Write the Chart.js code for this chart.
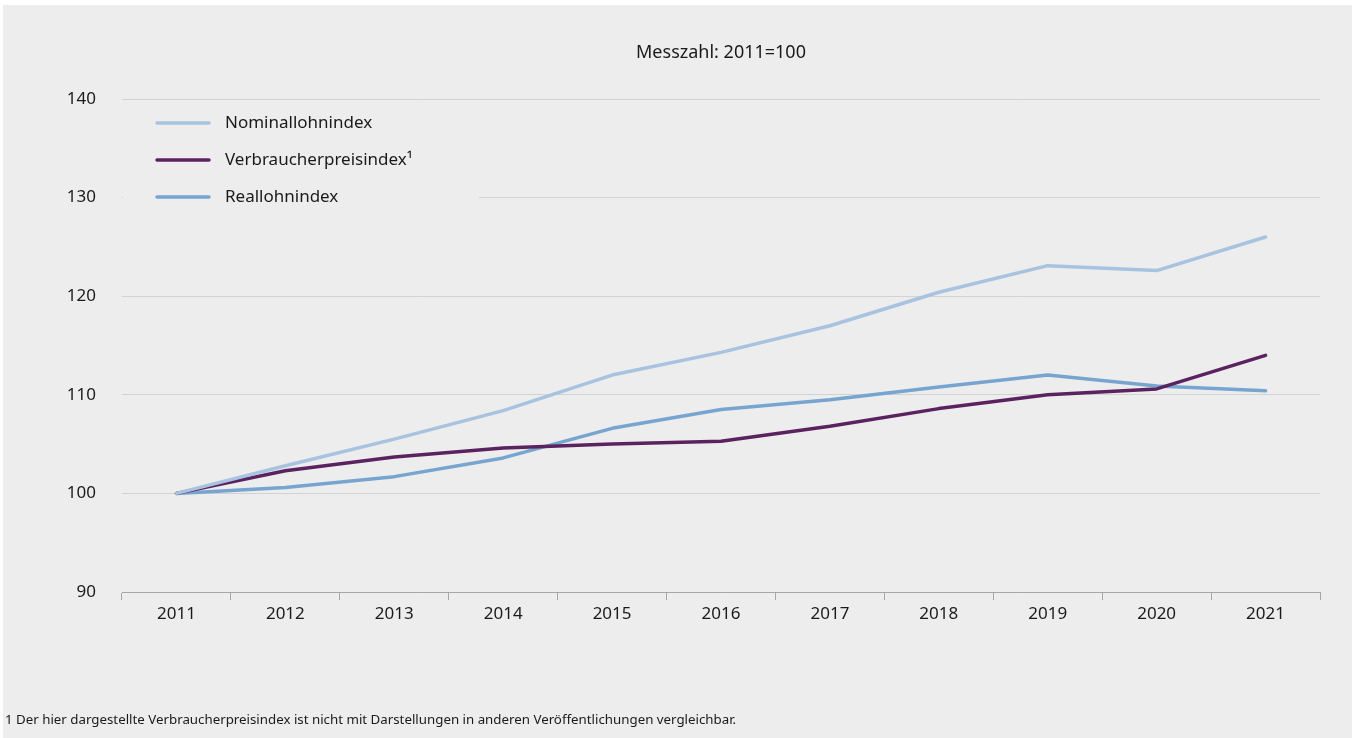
<!DOCTYPE html>
<html lang="de">
<head>
<meta charset="utf-8">
<script src="https://cdn.jsdelivr.net/npm/chart.js@4/dist/chart.umd.min.js"></script>
<style>
  html, body { margin: 0; padding: 0; background: #ffffff; }
  #wrap { position: relative; width: 1352px; height: 738px; }
  #note { position: absolute; left: 5px; top: 710px; font: 13.3px "Noto Sans", sans-serif; color: #1a1a1a; white-space: nowrap; }
</style>
</head>
<body>
<div id="wrap">
  <canvas id="lohn" width="1352" height="738"></canvas>
  <div id="note">1 Der hier dargestellte Verbraucherpreisindex ist nicht mit Darstellungen in anderen Veröffentlichungen vergleichbar.</div>
</div>
<script>
const years = ['2011', '2012', '2013', '2014', '2015', '2016', '2017', '2018', '2019', '2020', '2021'];
const nominal = [100, 102.8, 105.5, 108.4, 112.0, 114.3, 117.0, 120.4, 123.1, 122.6, 126.0];
const cpi = [100, 102.3, 103.7, 104.6, 105.0, 105.3, 106.8, 108.6, 110.0, 110.6, 114.0];
const real = [100, 100.6, 101.7, 103.6, 106.6, 108.5, 109.5, 110.8, 112.0, 110.9, 110.4];
const seriesNames = ['Nominallohnindex', 'Verbraucherpreisindex¹', 'Reallohnindex'];
const yTicks = [90, 100, 110, 120, 130, 140];
const titleText = 'Messzahl: 2011=100';

const FONT = '"Noto Sans", sans-serif';
const BG = '#ededed';

// title above the plot and a boxed legend inside the top-left corner
const overlay = {
    id: 'overlay',
    beforeDatasetsDraw(chart) {
        const {ctx, chartArea} = chart;
        ctx.save();
        ctx.fillStyle = BG;
        ctx.fillRect(chartArea.left + 1, chartArea.top + 4, 356, 108);
        ctx.font = '17px ' + FONT;
        ctx.textBaseline = 'middle';
        chart.data.datasets.forEach((ds, i) => {
            const y = chartArea.top + 24 + i * 37;
            ctx.strokeStyle = ds.borderColor;
            ctx.lineWidth = 3.5;
            ctx.lineCap = 'round';
            ctx.beginPath();
            ctx.moveTo(chartArea.left + 35, y);
            ctx.lineTo(chartArea.left + 87, y);
            ctx.stroke();
            ctx.fillStyle = '#1a1a1a';
            ctx.fillText(ds.label, chartArea.left + 103, y);
        });
        ctx.textAlign = 'center';
        ctx.font = '18px ' + FONT;
        ctx.fillText(titleText, (chartArea.left + chartArea.right) / 2, 53);
        ctx.restore();
    }
};

// grey panel with a thin white margin on the top and left
const background = {
    id: 'background',
    beforeDraw(chart) {
        const {ctx, width, height} = chart;
        ctx.save();
        ctx.fillStyle = BG;
        ctx.fillRect(3, 5, width - 3, height - 5);
        ctx.restore();
    }
};

const lineStyle = {
    borderWidth: 3.5,
    pointRadius: 0,
    borderCapStyle: 'round',
    borderJoinStyle: 'round',
    tension: 0
};

new Chart(document.getElementById('lohn'), {
    type: 'line',
    data: {
        labels: years,
        datasets: [
            {label: seriesNames[0], data: nominal, borderColor: '#a7c3df', ...lineStyle},
            {label: seriesNames[1], data: cpi, borderColor: '#5b2260', ...lineStyle},
            {label: seriesNames[2], data: real, borderColor: '#77a5cf', ...lineStyle}
        ]
    },
    options: {
        responsive: false,
        animation: false,
        layout: {padding: {top: 99, right: 32, bottom: 106, left: 0}},
        plugins: {
            legend: {display: false},
            title: {display: false},
            tooltip: {enabled: false}
        },
        scales: {
            x: {
                offset: true,
                grid: {
                    offset: true,
                    drawOnChartArea: false,
                    tickLength: 8,
                    color: '#a6a6a6'
                },
                border: {color: '#a6a6a6'},
                ticks: {color: '#1a1a1a', font: {family: FONT, size: 17}, padding: 4},
                afterFit(scale) { scale.height = 40; }
            },
            y: {
                min: yTicks[0],
                max: yTicks[yTicks.length - 1],
                afterBuildTicks(scale) { scale.ticks = yTicks.map(v => ({value: v})); },
                grid: {color: '#d2d2d2', drawTicks: false},
                border: {display: false},
                ticks: {color: '#1a1a1a', font: {family: FONT, size: 17}, padding: 26},
                afterFit(scale) { scale.width = 122; }
            }
        }
    },
    plugins: [background, overlay]
});
</script>
</body>
</html>
